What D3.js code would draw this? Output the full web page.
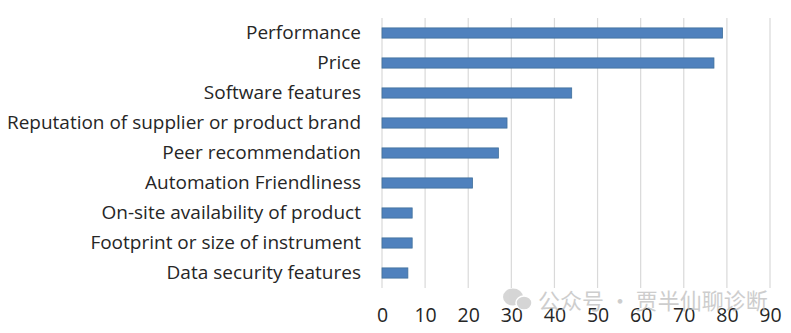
<!DOCTYPE html>
<html><head><meta charset="utf-8">
<script src="https://cdn.jsdelivr.net/npm/d3@7"></script>
<style>html,body{margin:0;padding:0;background:#fff;}svg{display:block;}</style>
</head><body>
<svg id="chart" width="791" height="333"></svg>
<script>
const categories = ["Performance","Price","Software features","Reputation of supplier or product brand","Peer recommendation","Automation Friendliness","On-site availability of product","Footprint or size of instrument","Data security features"];
const values = [79, 77, 44, 29, 27, 21, 7, 7, 6];
const tickValues = [0,10,20,30,40,50,60,70,80,90];
const watermark = "公众号 · 贾半仙聊诊断";

(function(){
const svg = d3.select("#chart");
const pLeft = 382, pRight = 770, pTop = 18, pBottom = 288;
const x = d3.scaleLinear().domain([0, 90]).range([pLeft, pRight]);
const y = d3.scaleBand().domain(categories).range([pTop, pBottom]).paddingInner(0.66).paddingOuter(0.33);

svg.append("g").selectAll("line").data(tickValues).join("line")
  .attr("x1", d => x(d)).attr("x2", d => x(d))
  .attr("y1", pTop).attr("y2", pBottom)
  .attr("stroke", "#d9d9d9").attr("stroke-width", 1.2);

svg.append("g").selectAll("rect").data(categories).join("rect")
  .attr("x", x(0)).attr("y", d => y(d))
  .attr("width", (d,i) => x(values[i]) - x(0))
  .attr("height", y.bandwidth())
  .attr("fill", "#4f81bd").attr("stroke", "#41719c").attr("stroke-width", 0.8);

const yAxis = d3.axisLeft(y).tickSize(0).tickPadding(0);
const gy = svg.append("g").attr("transform", `translate(361,0)`).call(yAxis);
gy.select(".domain").remove();
gy.selectAll("text").attr("font-family", "'Open Sans', sans-serif").attr("font-size", 19).attr("fill", "#262626");
gy.selectAll("text").each(function(){
  const w = this.getComputedTextLength();
  if (w > 354) d3.select(this).attr("textLength", 354).attr("lengthAdjust", "spacingAndGlyphs");
});

const xAxis = d3.axisBottom(x).tickValues(tickValues).tickSize(0).tickPadding(0);
const gx = svg.append("g").call(xAxis);
gx.select(".domain").remove();
gx.selectAll("text").attr("dy", null).attr("y", 322).attr("font-family", "'Open Sans', sans-serif").attr("font-size", 19.5).attr("fill", "#262626");

const wm = svg.append("g").attr("opacity", 0.75);
wm.append("ellipse").attr("cx", 513).attr("cy", 297).attr("rx", 10).attr("ry", 8.5).attr("fill", "#c8c8c8");
wm.append("ellipse").attr("cx", 524).attr("cy", 303).attr("rx", 8).attr("ry", 7).attr("fill", "#c8c8c8").attr("stroke", "#fff").attr("stroke-width", 1.5);
wm.append("text").attr("x", 538).attr("y", 309)
  .attr("font-family", "'Noto Sans CJK SC', sans-serif").attr("font-size", 22)
  .attr("fill", "#bdbdbd").text(watermark);
})();
</script>
</body></html>
